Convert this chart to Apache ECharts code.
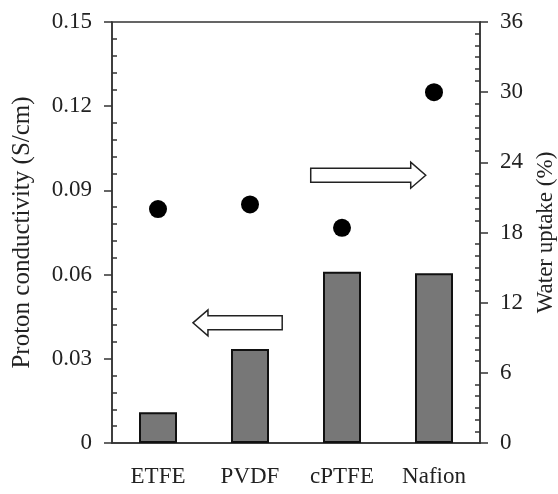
<!DOCTYPE html>
<html>
<head>
<meta charset="utf-8">
<title>Proton conductivity and water uptake</title>
<script src="https://cdn.jsdelivr.net/npm/echarts@6/dist/echarts.min.js"></script>
<style>
  html, body { margin: 0; padding: 0; background: #fff; }
  #main { width: 558px; height: 494px; }
</style>
</head>
<body>
<div id="main"></div>
<script>
// data
const membranes = ['ETFE', 'PVDF', 'cPTFE', 'Nafion'];
const conductivity = [0.011, 0.0335, 0.061, 0.0605];   // S/cm, bars, left axis
const waterUptake = [20.0, 20.4, 18.4, 30.0];           // %, dots, right axis

// hollow arrows: [from category position, to category position, value on its axis]
const leftArrow = [1.35, 0.38, 0.0428];
const rightArrow = [1.66, 2.91, 22.9];

const ink = '#333';
const font = 'Liberation Serif';

const chart = echarts.init(document.getElementById('main'));

const lineStyle = { color: ink, width: 1.5 };

const option = {
  animation: false,
  textStyle: { fontFamily: font },
  grid: {
    left: 112, right: 78, top: 22, bottom: 51, outerBoundsMode: 'none',
    show: true, borderColor: ink, borderWidth: 1.5
  },
  xAxis: {
    type: 'category',
    data: membranes,
    axisLine: { lineStyle: lineStyle },
    axisTick: { inside: true, length: 8, lineStyle: lineStyle },
    axisLabel: { fontFamily: font, fontSize: 23, color: '#222', margin: 22 }
  },
  yAxis: [
    {
      type: 'value', position: 'left', min: 0, max: 0.15, interval: 0.03,
      name: 'Proton conductivity (S/cm)', nameLocation: 'middle', nameGap: 77,
      nameTextStyle: { fontFamily: font, fontSize: 25, color: '#222' },
      axisLine: { show: true, lineStyle: lineStyle },
      axisTick: { inside: true, length: 8, lineStyle: lineStyle },
      minorTick: { show: true, splitNumber: 5, length: 5, lineStyle: lineStyle },
      splitLine: { show: false },
      axisLabel: { fontFamily: font, fontSize: 23, color: '#222', margin: 20,
        formatter: v => v === 0 ? '0' : v.toFixed(2) }
    },
    {
      type: 'value', position: 'right', min: 0, max: 36, interval: 6,
      name: 'Water uptake (%)', nameLocation: 'middle', nameGap: 54,
      nameTextStyle: { fontFamily: font, fontSize: 23, color: '#222' },
      axisLine: { show: true, lineStyle: lineStyle },
      axisTick: { inside: true, length: 8, lineStyle: lineStyle },
      minorTick: { show: true, splitNumber: 6, length: 5, lineStyle: lineStyle },
      splitLine: { show: false },
      axisLabel: { fontFamily: font, fontSize: 23, color: '#222', margin: 20 }
    },
    // outward halves of the major ticks
    {
      type: 'value', position: 'left', min: 0, max: 0.15, interval: 0.03,
      axisLine: { show: false }, axisLabel: { show: false }, splitLine: { show: false },
      axisTick: { show: true, length: 8, lineStyle: lineStyle }
    },
    {
      type: 'value', position: 'right', min: 0, max: 36, interval: 6,
      axisLine: { show: false }, axisLabel: { show: false }, splitLine: { show: false },
      axisTick: { show: true, length: 8, lineStyle: lineStyle }
    }
  ],
  series: [
    {
      name: 'Proton conductivity', type: 'bar', yAxisIndex: 0, barWidth: 38,
      data: conductivity,
      itemStyle: { color: '#777', borderColor: '#111', borderWidth: 2 }
    },
    {
      name: 'Water uptake', type: 'scatter', yAxisIndex: 1, symbolSize: 18,
      data: waterUptake,
      itemStyle: { color: '#000', opacity: 1 }
    }
  ]
};
chart.setOption(option);

// arrow outline in pixels, pointing from x0 to x1 at height y
function arrowPoints(x0, x1, y) {
  const dir = x1 > x0 ? 1 : -1;
  const head = 15, shaft = 7, wing = 13;
  const xb = x1 - dir * head;
  return [
    [x0, y - shaft], [xb, y - shaft], [xb, y - wing], [x1, y],
    [xb, y + wing], [xb, y + shaft], [x0, y + shaft]
  ];
}

function catX(pos) {
  const a = chart.convertToPixel({ xAxisIndex: 0 }, membranes[0]);
  const b = chart.convertToPixel({ xAxisIndex: 0 }, membranes[1]);
  return a + pos * (b - a);
}

const ly = chart.convertToPixel({ yAxisIndex: 0 }, leftArrow[2]);
const ry = chart.convertToPixel({ yAxisIndex: 1 }, rightArrow[2]);
const arrowStyle = { fill: '#fff', stroke: '#222', lineWidth: 1.5 };

chart.setOption({
  graphic: [
    { type: 'polygon', z: 10, shape: { points: arrowPoints(catX(leftArrow[0]), catX(leftArrow[1]), ly) }, style: arrowStyle },
    { type: 'polygon', z: 10, shape: { points: arrowPoints(catX(rightArrow[0]), catX(rightArrow[1]), ry) }, style: arrowStyle }
  ]
});
</script>
</body>
</html>
